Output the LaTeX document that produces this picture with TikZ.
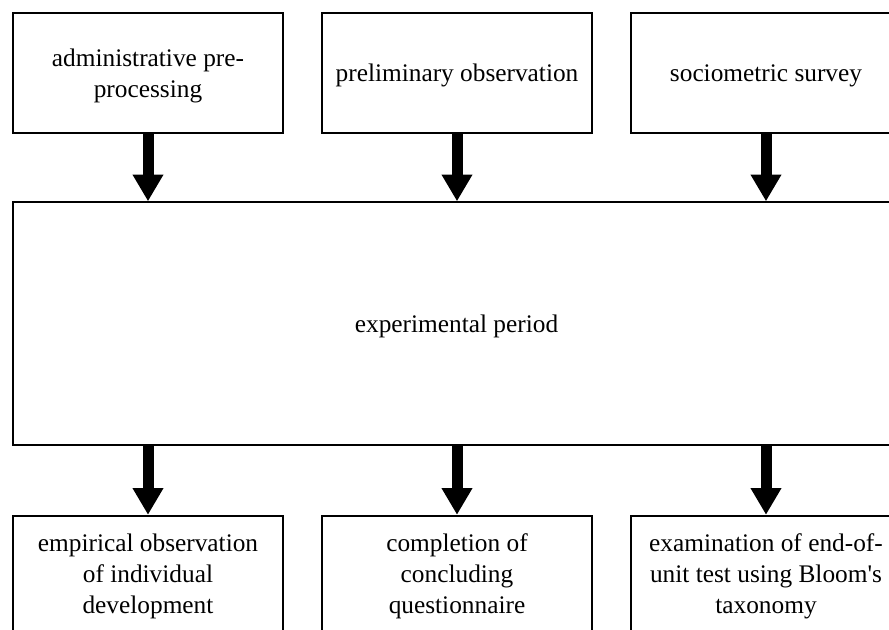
\documentclass[tikz,border=0pt]{standalone}
\usepackage{fontspec}
\setmainfont{Liberation Serif}
\usepackage{tikz}
\usetikzlibrary{positioning, arrows.meta}

\begin{document}
\begin{tikzpicture}[
    x=0.75pt, y=-0.75pt,
    stagebox/.style={draw, line width=1.3pt, minimum width=203pt, minimum height=90.5pt,
      align=center, inner sep=0pt, font=\fontsize{19}{23.25}\selectfont},
    lowtext/.style={text depth=-2.8pt},
    bigbox/.style={stagebox, lowtext, minimum width=665pt, minimum height=182pt},
    flow/.style={line width=8.25pt, -{Triangle[width=21.75pt, length=20pt]}}
]
  \useasboundingbox (0,0) rectangle (889,630);
  \clip (0,0) rectangle (889,630);

  % --- TOP ROW ---
  \node[stagebox, lowtext] (adm) at (148,73) {administrative pre-\\processing};
  \node[stagebox, lowtext] (obs) at (457,73) {preliminary observation};
  \node[stagebox, lowtext] (soc) at (766,73) {sociometric survey};

  % --- CENTRE ---
  \node[bigbox] (exp) at (456.5,323.5) {experimental period};

  % --- BOTTOM ROW ---
  \node[stagebox] (emp) at (148,576) {empirical observation\\of individual\\development};
  \node[stagebox] (que) at (457,576) {completion of\\concluding\\questionnaire};
  \node[stagebox] (tst) at (766,576) {examination of end-of-\\unit test using Bloom\textquotesingle s\\taxonomy};

  % --- ARROWS ---
  \draw[flow] (adm.south) -- (adm |- exp.north);
  \draw[flow] (obs.south) -- (obs |- exp.north);
  \draw[flow] (soc.south) -- (soc |- exp.north);
  \draw[flow] (emp |- exp.south) -- (emp.north);
  \draw[flow] (que |- exp.south) -- (que.north);
  \draw[flow] (tst |- exp.south) -- (tst.north);
\end{tikzpicture}
\end{document}
